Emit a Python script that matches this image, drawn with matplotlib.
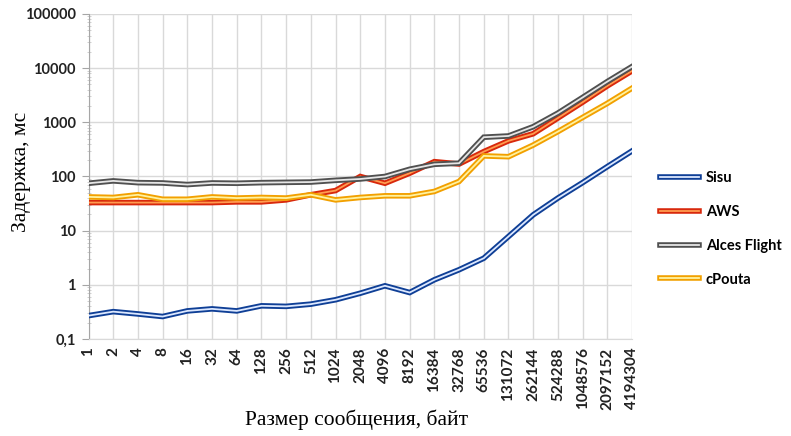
import matplotlib.pyplot as plt
from matplotlib.legend_handler import HandlerTuple
from matplotlib.ticker import LogLocator, NullFormatter

# Размеры сообщений (байт) - категории по оси X
sizes = ['1', '2', '4', '8', '16', '32', '64', '128', '256', '512', '1024', '2048',
         '4096', '8192', '16384', '32768', '65536', '131072', '262144', '524288',
         '1048576', '2097152', '4194304']

# Задержка, мс
sisu = [0.27, 0.32, 0.29, 0.26, 0.33, 0.36, 0.33, 0.41, 0.40, 0.44, 0.53, 0.70,
        0.96, 0.72, 1.24, 1.9, 3.1, 7.8, 19.6, 40, 77, 152, 296]
aws = [33, 33, 33, 33, 33, 33, 34, 34, 37, 46, 55, 100,
       75, 115, 188, 170, 288, 455, 615, 1200, 2350, 4700, 8900]
alces = [75, 83, 77, 76, 71, 76, 75, 77, 78, 79, 85, 90,
         100, 136, 168, 176, 531, 560, 830, 1480, 2880, 5650, 10700]
cpouta = [42, 41, 46, 38, 38, 42, 40, 41, 40, 46, 37, 41,
          44, 44, 53, 81, 240, 232, 380, 675, 1230, 2240, 4270]

names = ['Sisu', 'AWS', 'Alces Flight', 'cPouta']
series = [sisu, aws, alces, cpouta]
outer_colors = ['#0f3f96', '#d8280c', '#505050', '#f2a000']
inner_colors = ['#dce8ff', '#ff9c50', '#e6e6e6', '#fff2a0']

fig = plt.figure(figsize=(7.91, 4.36), dpi=100)
ax = fig.add_axes([88.5 / 791, 1 - 339 / 436, (632 - 88.5) / 791, (339 - 14) / 436])

x = list(range(len(sizes)))
handles = []
for vals, oc, ic in zip(series, outer_colors, inner_colors):
    # двойная линия: толстая цветная + тонкая светлая поверх
    l1, = ax.plot(x, vals, color=oc, lw=4.0, solid_joinstyle='miter', zorder=3)
    l2, = ax.plot(x, vals, color=ic, lw=1.3, solid_joinstyle='miter', zorder=3)
    handles.append((l1, l2))

ax.set_yscale('log')
ax.set_ylim(0.1, 100000)
ax.set_xlim(0, len(sizes) - 1)
ax.set_yticks([0.1, 1, 10, 100, 1000, 10000, 100000])
ax.set_yticklabels(['0,1', '1', '10', '100', '1000', '10000', '100000'])
ax.yaxis.set_minor_locator(LogLocator(base=10, subs=range(2, 10)))
ax.yaxis.set_minor_formatter(NullFormatter())
ax.set_xticks(x)
ax.set_xticklabels(sizes, rotation=90)

for lab in ax.get_yticklabels():
    lab.set(family='Lato', weight='bold', size=10.5, color='#222222')
for lab in ax.get_xticklabels():
    lab.set(family='Lato', weight='bold', size=11, color='#222222')

ax.grid(True, which='major', color='#d9d9d9', lw=1, zorder=0)
for s in ['top', 'right']:
    ax.spines[s].set_visible(False)
ax.spines['left'].set_color('#a6a6a6')
ax.spines['bottom'].set_color('#d9d9d9')
ax.tick_params(axis='y', which='major', length=5, color='#a6a6a6', pad=4)
ax.tick_params(axis='y', which='minor', length=3, color='#c8c8c8', direction='inout')
ax.tick_params(axis='x', length=0, pad=6)

fig.text(22 / 791, 1 - 172 / 436, 'Задержка, мс', family='Liberation Serif', size=15.5,
         rotation=90, ha='center', va='center')
fig.text(357 / 791, 1 - 420 / 436, 'Размер сообщения, байт', family='Liberation Serif',
         size=15.5, ha='center', va='center')

fig.legend(handles, names, handler_map={tuple: HandlerTuple(ndivide=1)},
           loc='center left', bbox_to_anchor=(660 / 791, 1 - 229 / 436),
           frameon=False, borderpad=0, borderaxespad=0,
           handlelength=2.7, handletextpad=0.45, labelspacing=1.35,
           prop=dict(family='Lato', weight='bold', size=10.5))

plt.savefig('out.png', dpi=100)
